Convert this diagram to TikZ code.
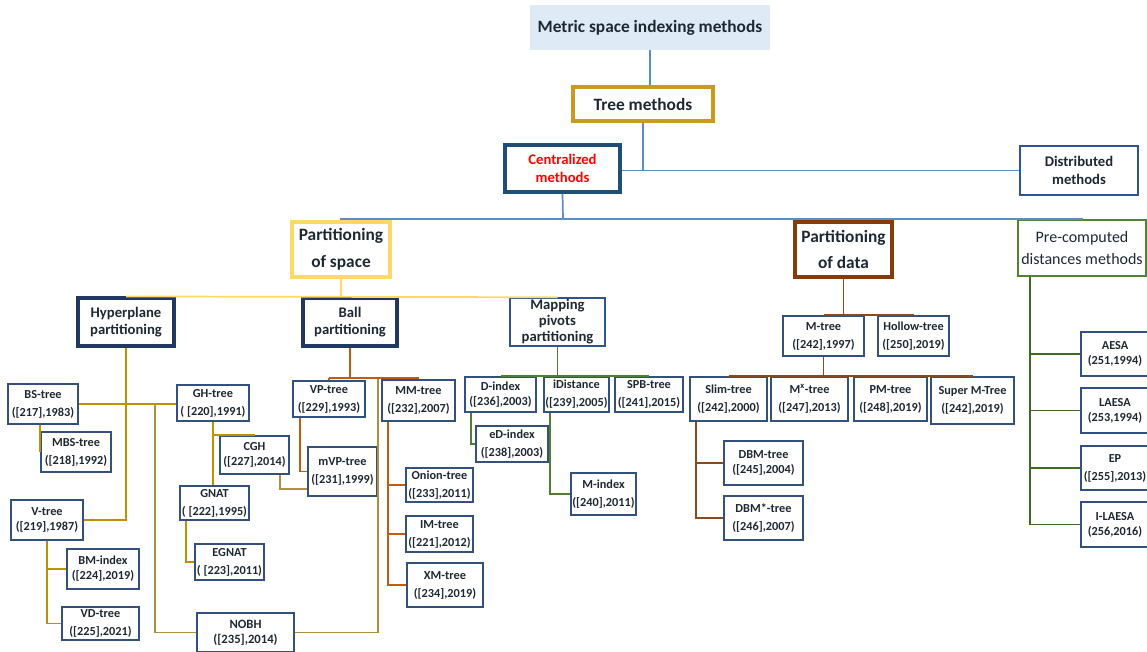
\documentclass[tikz,border=0pt]{standalone}
\usepackage{fontspec}
\setmainfont{Carlito}
\definecolor{txt}{HTML}{1E2833}
\definecolor{titlefill}{HTML}{DEEBF7}
\definecolor{topline}{HTML}{5B8EC4}
\definecolor{treegold}{HTML}{C89B1E}
\definecolor{centblue}{HTML}{1F4E79}
\definecolor{distblue}{HTML}{2F5597}
\definecolor{spacey}{HTML}{FFD966}
\definecolor{databrown}{HTML}{843C0C}
\definecolor{pregreen}{HTML}{548235}
\definecolor{navy}{HTML}{203864}
\definecolor{leafc}{HTML}{34507E}
\definecolor{goldline}{HTML}{BF9000}
\definecolor{tanline}{HTML}{B0903E}
\definecolor{ballline}{HTML}{C55A11}
\definecolor{mapline}{HTML}{507E32}
\definecolor{dataline}{HTML}{8B4A1C}
\definecolor{preline}{HTML}{3E6B22}
% node with corners (x1,y1)-(x2,y2) given in pixels
\newcommand{\boxat}[7]{\node[#1, minimum width={(#4-#2)*0.75pt}, minimum height={(#5-#3)*0.75pt}] (#6) at ({(#2+#4)/2},{(#3+#5)/2}) {#7};}
\begin{document}
\begin{tikzpicture}[x=0.75pt,y=-0.75pt,
  box/.style={rectangle, inner sep=0pt, align=center, text=txt},
  leaf/.style={box, draw=leafc, line width=1.2pt, font=\bfseries\fontsize{9.2}{13.5}\selectfont},
  tight/.style={font=\bfseries\fontsize{9.2}{11.25}\selectfont},
  heavy/.style={box, draw=navy, line width=2.3pt, font=\bfseries\fontsize{11}{12.5}\selectfont},
  conn/.style={line width=1.3pt},
  topc/.style={conn, draw=topline},
  spacec/.style={conn, draw=spacey},
  hypc/.style={conn, draw=goldline},
  tanc/.style={conn, draw=tanline},
  ballc/.style={conn, draw=ballline},
  mapc/.style={conn, draw=mapline},
  datac/.style={conn, draw=dataline},
  prec/.style={conn, draw=preline}]
\useasboundingbox (0,0) rectangle (1147,652);

% upper levels
\boxat{box, fill=titlefill, font=\bfseries\fontsize{13}{15}\selectfont}{530}{5}{770}{50}{title}{Metric space indexing methods}
\boxat{box, draw=treegold, line width=2.3pt, font=\bfseries\fontsize{13}{15}\selectfont}{573}{87}{713}{121}{tree}{Tree methods}
\boxat{box, draw=centblue, line width=2.3pt, text=red, font=\bfseries\fontsize{11}{13}\selectfont}{505}{145}{620}{192}{cent}{Centralized\\methods}
\boxat{box, draw=distblue, line width=1.1pt, font=\bfseries\fontsize{11}{13}\selectfont}{1020}{146}{1138}{195}{dist}{Distributed\\methods}
\boxat{box, draw=spacey, line width=2.3pt, font=\bfseries\fontsize{13}{20}\selectfont}{292}{222}{390}{277}{space}{Partitioning\\of space}
\boxat{box, draw=databrown, line width=2.3pt, font=\bfseries\fontsize{13}{20}\selectfont}{795}{222}{892}{277}{data}{Partitioning\\of data}
\boxat{box, draw=pregreen, line width=1.1pt, font=\fontsize{12}{17}\selectfont}{1018}{220}{1146}{276}{pre}{Pre-computed\\distances methods}
\boxat{heavy}{78}{298}{174}{346}{hyp}{Hyperplane\\partitioning}
\boxat{heavy}{303}{298}{397}{346}{ball}{Ball\\partitioning}
\boxat{box, draw=distblue, line width=1.1pt, font=\bfseries\fontsize{11}{12}\selectfont}{510}{298}{605}{346}{map}{Mapping\\pivots\\partitioning}

% hyperplane partitioning family
\boxat{leaf}{8}{384}{78}{424}{bs}{BS-tree\\([217],1983)}
\boxat{leaf}{41}{432}{111}{472}{mbs}{MBS-tree\\([218],1992)}
\boxat{leaf,tight}{11}{500}{83}{540}{vt}{V-tree\\([219],1987)}
\boxat{leaf,tight}{67}{549}{139}{589}{bm}{BM-index\\([224],2019)}
\boxat{leaf}{62}{607}{139}{640}{vd}{VD-tree\\([225],2021)}
\boxat{leaf}{177}{385}{249}{421}{gh}{GH-tree\\( [220],1991)}
\boxat{leaf,tight}{220}{436}{289}{474}{cgh}{CGH\\([227],2014)}
\boxat{leaf}{180}{486}{249}{520}{gnat}{GNAT\\( [222],1995)}
\boxat{leaf}{195}{544}{264}{580}{egnat}{EGNAT\\( [223],2011)}
\boxat{leaf, font=\bfseries\fontsize{9.5}{11.5}\selectfont}{197}{613}{294}{652}{nobh}{NOBH\\([235],2014)}

% ball partitioning family
\boxat{leaf}{293}{381}{365}{417}{vp}{VP-tree\\([229],1993)}
\boxat{leaf}{308}{447}{377}{496}{mvp}{mVP-tree\\([231],1999)}
\boxat{leaf}{382}{380}{455}{421}{mm}{MM-tree\\([232],2007)}
\boxat{leaf}{406}{468}{473}{502}{onion}{Onion-tree\\([233],2011)}
\boxat{leaf}{406}{516}{473}{552}{im}{IM-tree\\([221],2012)}
\boxat{leaf}{407}{563}{483}{607}{xm}{XM-tree\\([234],2019)}

% mapping pivots family
\boxat{leaf,tight}{465}{377}{536}{412}{di}{D-index\\([236],2003)}
\boxat{leaf}{544}{377}{609}{412}{idi}{iDistance\\([239],2005)}
\boxat{leaf}{615}{377}{683}{412}{spb}{SPB-tree\\([241],2015)}
\boxat{leaf}{476}{426}{548}{462}{ed}{eD-index\\([238],2003)}
\boxat{leaf}{571}{473}{636}{515}{mi}{M-index\\([240],2011)}

% partitioning of data family
\boxat{leaf}{783}{316}{864}{356}{mt}{M-tree\\([242],1997)}
\boxat{leaf}{878}{316}{949}{356}{hol}{Hollow-tree\\([250],2019)}
\boxat{leaf}{690}{377}{767}{421}{slim}{Slim-tree\\([242],2000)}
\boxat{leaf}{771}{377}{848}{421}{mx}{M\textsuperscript{x}-tree\\([247],2013)}
\boxat{leaf}{854}{377}{927}{421}{pm}{PM-tree\\([248],2019)}
\boxat{leaf}{931}{377}{1014}{424}{sup}{Super M-Tree\\([242],2019)}
\boxat{leaf,tight}{724}{441}{803}{485}{dbm}{DBM-tree\\([245],2004)}
\boxat{leaf}{724}{496}{803}{540}{dbs}{DBM*-tree\\([246],2007)}

% pre-computed distances family
\boxat{leaf,tight}{1081}{332}{1149}{376}{aesa}{AESA\\(251,1994)}
\boxat{leaf,tight}{1081}{388}{1149}{433}{laesa}{LAESA\\(253,1994)}
\boxat{leaf}{1081}{446}{1149}{490}{ep}{EP\\([255],2013)}
\boxat{leaf,tight}{1081}{502}{1149}{547}{il}{I-LAESA\\(256,2016)}

% junction points
\coordinate (cj) at (563,219);
\coordinate (bh) at (350,378);
\coordinate (nj) at (378,378);
\coordinate (hn) at (155,404);

% upper connectors
\draw[topc] (title.south) -- (title.south |- tree.north);
\draw[topc] (tree.south) -- (tree.south |- dist.west);
\draw[topc] (cent.east |- dist.west) -- (dist.west);
\draw[topc] (cent.south) -- (cj);
\draw[topc] (space.north) |- (cj) -| (pre.north);
\draw[topc] (data.north) -- (data.north |- cj);
\draw[spacec] (space.south) -- (space.south |- hyp.north);
\draw[spacec] (hyp.north) -- (map.north);

% hyperplane connectors
\draw[hypc] (hyp.south) |- (vt.east);
\draw[hypc] (bs.east) -- (bs.east -| gh.west);
\draw[hypc] (bs.south -| mbs.west) -- (mbs.west);
\draw[hypc] (vt.south) |- (vd.west);
\draw[hypc] (vt.south |- bm.west) -- (bm.west);
\draw[hypc] (gh.south) -- (gh.south |- gnat.north);
\draw[hypc] (gh.south |- cgh.north) -- (cgh.north);
\draw[hypc] ([xshift=5.25pt]gnat.south west) |- (egnat.west);
\draw[tanc] (hn) |- (nobh.west);
\draw[tanc] ([xshift=-7.5pt]cgh.south east) |- ([yshift=6pt]mvp.south west);
\draw[tanc] (nobh.east) -| (nj);

% ball connectors
\draw[ballc] (ball.south) -- (bh);
\draw[ballc] (vp.north |- bh) -- (mm.north |- bh);
\draw[ballc] (vp.north |- bh) -- (vp.north);
\draw[ballc] (mm.north |- bh) -- (mm.north);
\draw[ballc] ([xshift=6pt]vp.south west) |- (mvp.west);
\draw[ballc] ([xshift=5.25pt]mm.south west) |- (xm.west);
\draw[ballc] ([xshift=5.25pt]mm.south west |- onion.west) -- (onion.west);
\draw[ballc] ([xshift=5.25pt]mm.south west |- im.west) -- (im.west);

% mapping connectors
\draw[mapc] (map.south) -- (map.south |- di.north);
\draw[mapc] (di.north) -- (spb.north);
\draw[mapc] ([xshift=5.25pt]di.south west) |- (ed.west);
\draw[mapc] ([xshift=5.25pt]idi.south west) |- (mi.west);

% partitioning of data connectors
\draw[datac] (data.south) -- (data.south |- mt.north);
\draw[datac] (mt.north) -- (hol.north);
\draw[datac] (mt.south) -- (mt.south |- slim.north);
\draw[datac] (slim.north) -- (sup.north);
\draw[datac] ([xshift=5.25pt]slim.south west) |- (dbs.west);
\draw[datac] ([xshift=5.25pt]slim.south west |- dbm.west) -- (dbm.west);

% pre-computed connectors
\draw[prec] ([xshift=9.75pt]pre.south west) |- (il.west);
\draw[prec] ([xshift=9.75pt]pre.south west |- aesa.west) -- (aesa.west);
\draw[prec] ([xshift=9.75pt]pre.south west |- laesa.west) -- (laesa.west);
\draw[prec] ([xshift=9.75pt]pre.south west |- ep.west) -- (ep.west);
\end{tikzpicture}
\end{document}
